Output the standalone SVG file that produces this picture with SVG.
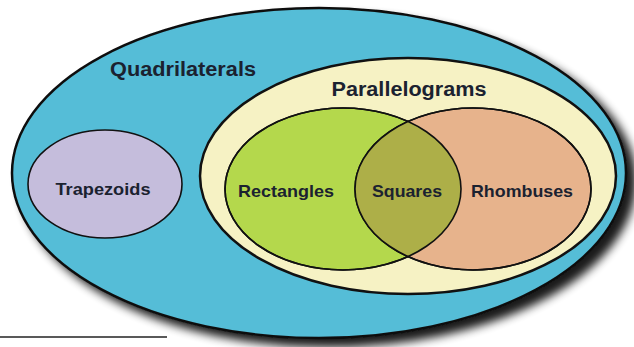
<svg xmlns="http://www.w3.org/2000/svg" width="634" height="347" viewBox="0 0 634 347">
<style>
.lbl{font-family:"Liberation Sans",Arial,sans-serif;font-weight:bold;fill:#1b2230;text-anchor:middle}
.big{font-size:20px}
.sm{font-size:17px}
.edge{stroke:#111;fill-opacity:1}
</style>
<defs>
<filter id="sh" x="-10%" y="-10%" width="130%" height="140%">
<feGaussianBlur in="SourceAlpha" stdDeviation="5"/>
<feOffset dx="9" dy="8" result="b"/>
<feComponentTransfer><feFuncA type="linear" slope="0.9"/></feComponentTransfer>
<feMerge><feMergeNode/><feMergeNode in="SourceGraphic"/></feMerge>
</filter>
</defs>
<rect width="634" height="347" fill="#ffffff"/>
<g id="quadrilaterals">
<ellipse cx="319" cy="173" rx="307" ry="165" fill="#55bdd7" class="edge" stroke-width="2.5" filter="url(#sh)"/>
<text class="lbl big" x="183" y="76" textLength="146" lengthAdjust="spacingAndGlyphs">Quadrilaterals</text>
</g>
<g id="trapezoids">
<ellipse cx="105" cy="184" rx="77" ry="54" fill="#c5bddc" class="edge" stroke-width="1.6"/>
<text class="lbl sm" x="103" y="195" textLength="95" lengthAdjust="spacingAndGlyphs">Trapezoids</text>
</g>
<g id="parallelograms">
<ellipse cx="408" cy="176" rx="208" ry="118" fill="#f6f2c4" class="edge" stroke-width="2.5"/>
<text class="lbl big" x="409" y="96" textLength="155" lengthAdjust="spacingAndGlyphs">Parallelograms</text>
</g>
<g id="rectangles">
<ellipse cx="343" cy="189" rx="118" ry="81" fill="#b4d84c" class="edge" stroke-width="1.6"/>
</g>
<g id="rhombuses">
<ellipse cx="473" cy="189" rx="118" ry="81" fill="#e7b38c" class="edge" stroke-width="1.6"/>
</g>
<g id="squares">
<defs><clipPath id="cr"><ellipse cx="343" cy="189" rx="118" ry="81"/></clipPath></defs>
<ellipse cx="473" cy="189" rx="118" ry="81" fill="#adaf48" clip-path="url(#cr)"/>
<ellipse cx="343" cy="189" rx="118" ry="81" fill="none" class="edge" stroke-width="1.6"/>
<ellipse cx="473" cy="189" rx="118" ry="81" fill="none" class="edge" stroke-width="1.6"/>
<text class="lbl sm" x="407" y="197" textLength="70" lengthAdjust="spacingAndGlyphs">Squares</text>
</g>
<text class="lbl sm" x="286" y="197" textLength="96" lengthAdjust="spacingAndGlyphs">Rectangles</text>
<text class="lbl sm" x="522" y="197" textLength="102" lengthAdjust="spacingAndGlyphs">Rhombuses</text>
<g id="connectors">
<line x1="0" y1="337" x2="167" y2="337" stroke="#222" stroke-width="1.5"/>
</g>
</svg>
